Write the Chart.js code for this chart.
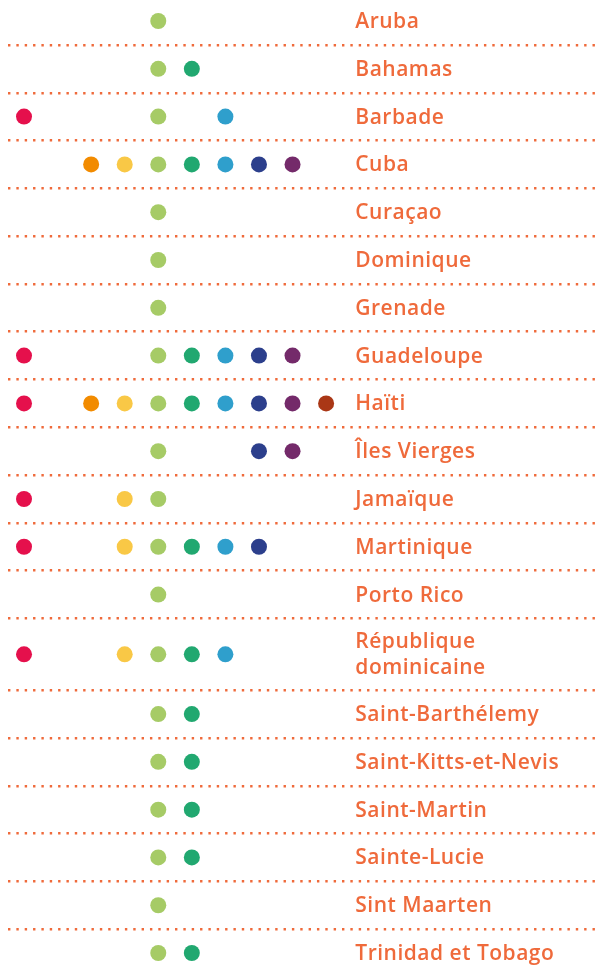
<!DOCTYPE html>
<html lang="fr">
<head>
<meta charset="utf-8">
<title>Caraïbes</title>
<script src="https://cdn.jsdelivr.net/npm/chart.js@4.4.1/dist/chart.umd.min.js"></script>
<style>
  html, body { margin: 0; padding: 0; background: #fff; }
  #wrap { width: 605px; height: 975px; position: relative; }
</style>
</head>
<body>
<div id="wrap"><canvas id="chart"></canvas></div>
<script>
// ── Data ──────────────────────────────────────────────────────
// one entry per territory; multi-line labels are arrays
const countries = [
  "Aruba", "Bahamas", "Barbade", "Cuba", "Curaçao", "Dominique", "Grenade",
  "Guadeloupe", "Haïti", "Îles Vierges", "Jamaïque", "Martinique", "Porto Rico",
  ["République", "dominicaine"], "Saint-Barthélemy", "Saint-Kitts-et-Nevis",
  "Saint-Martin", "Sainte-Lucie", "Sint Maarten", "Trinidad et Tobago"
];

// colour of each column (column 1 is empty in the source)
const columnColors = [
  "#e5104c", "#cccccc", "#f28b00", "#f9c846", "#a6cb66",
  "#21a870", "#2f9fcc", "#2c3f8c", "#742a6a", "#aa3716"
];

// columns marked for each territory (same order as countries)
const marks = [
  [4],
  [4, 5],
  [0, 4, 6],
  [2, 3, 4, 5, 6, 7, 8],
  [4],
  [4],
  [4],
  [0, 4, 5, 6, 7, 8],
  [0, 2, 3, 4, 5, 6, 7, 8, 9],
  [4, 7, 8],
  [0, 3, 4],
  [0, 3, 4, 5, 6, 7],
  [4],
  [0, 3, 4, 5, 6],
  [4, 5],
  [4, 5],
  [4, 5],
  [4, 5],
  [4],
  [4, 5]
];

// ── Row layout (two-line labels get a taller row) ─────────────
const ORANGE = "#ef6a3b";
const rowCenters = [];
const rowBounds = [];
let acc = 0;
countries.forEach((c, i) => {
  const span = Array.isArray(c) ? 1.5 : 1;
  rowCenters.push(acc + span / 2);
  acc += span;
  if (i < countries.length - 1) rowBounds.push(acc);
});

const datasets = columnColors.map((color, col) => ({
  label: "col" + col,
  data: marks
    .map((m, i) => (m.includes(col) ? { x: col, y: rowCenters[i] } : null))
    .filter(Boolean),
  backgroundColor: color,
  borderWidth: 0,
  pointRadius: 8,
  pointHoverRadius: 8,
  pointStyle: "circle",
}));

// country names drawn to the right of the dots
const labelPlugin = {
  id: "rowLabels",
  afterDatasetsDraw(chart) {
    const { ctx, scales: { x, y } } = chart;
    ctx.save();
    ctx.fillStyle = ORANGE;
    ctx.font = "600 21px 'Open Sans', sans-serif";
    if ("letterSpacing" in ctx) ctx.letterSpacing = "0.5px";
    ctx.textAlign = "left";
    ctx.textBaseline = "middle";
    const lx = x.getPixelForValue(9.87);
    countries.forEach((c, i) => {
      const lines = Array.isArray(c) ? c : [c];
      const cy = y.getPixelForValue(rowCenters[i]) + 1;
      const lh = 26;
      lines.forEach((t, k) => {
        ctx.fillText(t, lx, cy + (k - (lines.length - 1) / 2) * lh);
      });
    });
    ctx.restore();
  }
};

new Chart(document.getElementById("chart"), {
  type: "scatter",
  data: { datasets },
  options: {
    responsive: true,
    maintainAspectRatio: false,
    animation: false,
    events: [],
    layout: { autoPadding: false, padding: { left: 8, right: 5, top: 0, bottom: 0 } },
    plugins: { legend: { display: false }, tooltip: { enabled: false } },
    scales: {
      x: {
        type: "linear",
        min: -0.477,
        max: 17.16,
        display: false,
      },
      y: {
        type: "linear",
        reverse: true,
        min: 0.06,
        max: 20.46,
        afterBuildTicks: (axis) => {
          axis.ticks = rowBounds.map(v => ({ value: v }));
        },
        ticks: { display: false },
        grid: {
          color: ORANGE,
          lineWidth: 2.4,
          drawTicks: false,
        },
        border: { display: false, dash: [2.4, 5.95] },
      },
    },
  },
  plugins: [labelPlugin],
});
</script>
</body>
</html>
